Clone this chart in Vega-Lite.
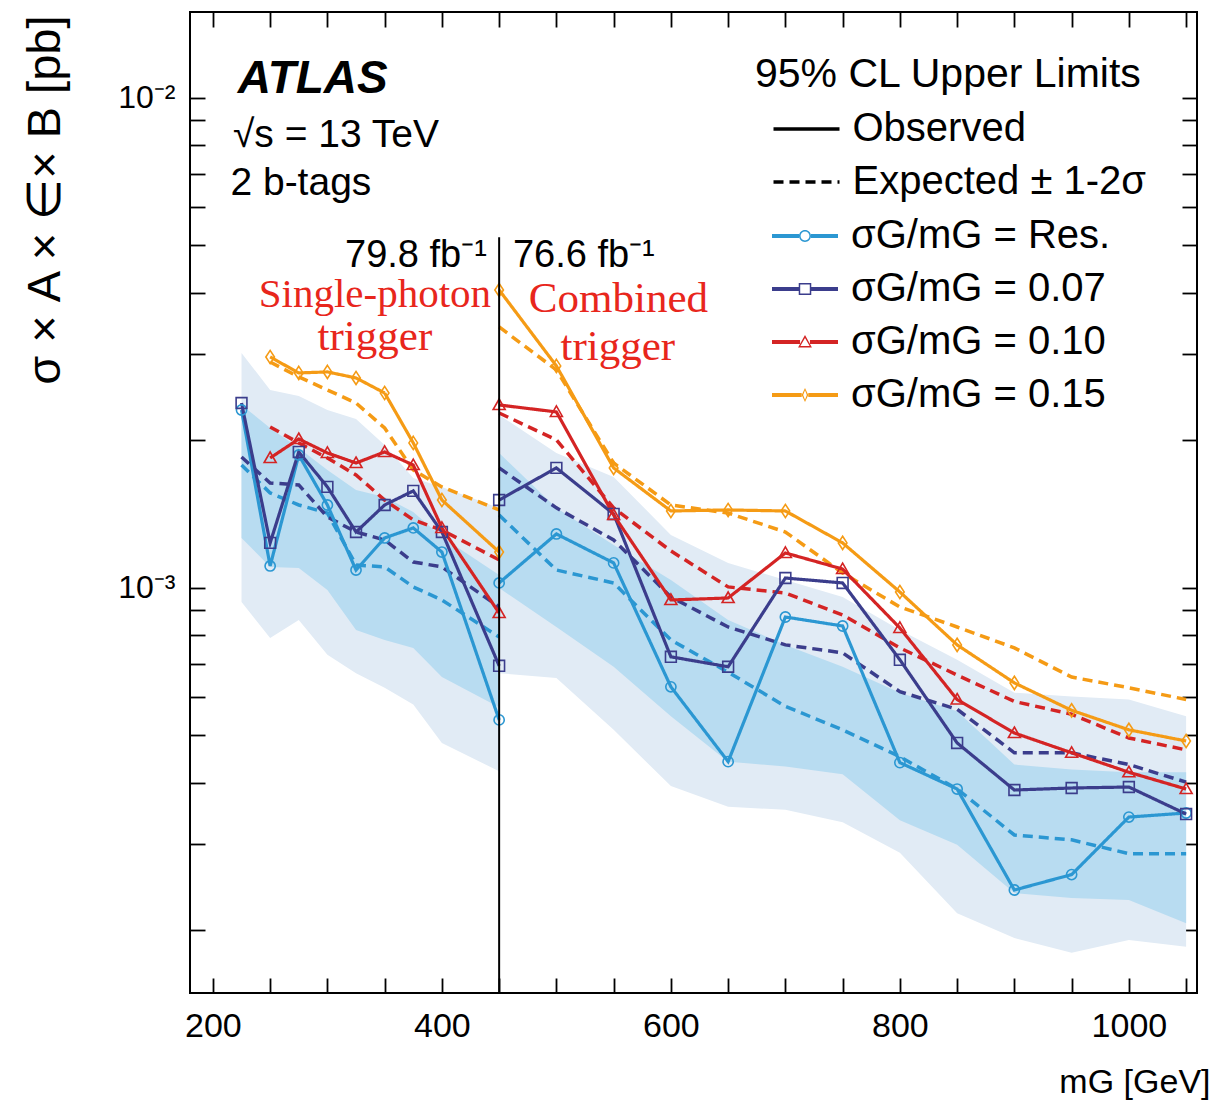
{
  "$schema": "https://vega.github.io/schema/vega-lite/v6.json",
  "width": 1007,
  "height": 981,
  "autosize": {"type": "none"},
  "padding": {"left": 190, "top": 12, "right": 21, "bottom": 110},
  "background": "white",
  "config": {
    "view": {"stroke": "black", "strokeWidth": 2},
    "font": "Liberation Sans",
    "axis": {"grid": false, "domain": false, "tickColor": "black", "tickWidth": 1.8, "labelColor": "black", "titleColor": "black", "labelFont": "Liberation Sans", "titleFont": "Liberation Sans", "titleFontWeight": "normal"}
  },
  "data": {"values": [{}]},
  "datasets": {
    "obs": [
      {"m": 225, "v": 0.002308, "s": "Res.", "seg": "SP"},
      {"m": 250, "v": 0.001109, "s": "Res.", "seg": "SP"},
      {"m": 275, "v": 0.001868, "s": "Res.", "seg": "SP"},
      {"m": 300, "v": 0.001477, "s": "Res.", "seg": "SP"},
      {"m": 325, "v": 0.001088, "s": "Res.", "seg": "SP"},
      {"m": 350, "v": 0.001265, "s": "Res.", "seg": "SP"},
      {"m": 375, "v": 0.001326, "s": "Res.", "seg": "SP"},
      {"m": 400, "v": 0.001184, "s": "Res.", "seg": "SP"},
      {"m": 450, "v": 0.000538, "s": "Res.", "seg": "SP"},
      {"m": 450, "v": 0.001024, "s": "Res.", "seg": "C"},
      {"m": 500, "v": 0.001289, "s": "Res.", "seg": "C"},
      {"m": 550, "v": 0.001125, "s": "Res.", "seg": "C"},
      {"m": 600, "v": 0.0006285, "s": "Res.", "seg": "C"},
      {"m": 650, "v": 0.0004422, "s": "Res.", "seg": "C"},
      {"m": 700, "v": 0.0008725, "s": "Res.", "seg": "C"},
      {"m": 750, "v": 0.0008365, "s": "Res.", "seg": "C"},
      {"m": 800, "v": 0.0004402, "s": "Res.", "seg": "C"},
      {"m": 850, "v": 0.0003888, "s": "Res.", "seg": "C"},
      {"m": 900, "v": 0.0002419, "s": "Res.", "seg": "C"},
      {"m": 950, "v": 0.0002601, "s": "Res.", "seg": "C"},
      {"m": 1000, "v": 0.0003408, "s": "Res.", "seg": "C"},
      {"m": 1050, "v": 0.0003474, "s": "Res.", "seg": "C"},
      {"m": 225, "v": 0.002385, "s": "0.07", "seg": "SP"},
      {"m": 250, "v": 0.001236, "s": "0.07", "seg": "SP"},
      {"m": 275, "v": 0.001895, "s": "0.07", "seg": "SP"},
      {"m": 300, "v": 0.001608, "s": "0.07", "seg": "SP"},
      {"m": 325, "v": 0.001301, "s": "0.07", "seg": "SP"},
      {"m": 350, "v": 0.001477, "s": "0.07", "seg": "SP"},
      {"m": 375, "v": 0.001578, "s": "0.07", "seg": "SP"},
      {"m": 400, "v": 0.001301, "s": "0.07", "seg": "SP"},
      {"m": 450, "v": 0.0006938, "s": "0.07", "seg": "SP"},
      {"m": 450, "v": 0.001512, "s": "0.07", "seg": "C"},
      {"m": 500, "v": 0.001758, "s": "0.07", "seg": "C"},
      {"m": 550, "v": 0.001416, "s": "0.07", "seg": "C"},
      {"m": 600, "v": 0.0007237, "s": "0.07", "seg": "C"},
      {"m": 650, "v": 0.0006906, "s": "0.07", "seg": "C"},
      {"m": 700, "v": 0.001048, "s": "0.07", "seg": "C"},
      {"m": 750, "v": 0.001024, "s": "0.07", "seg": "C"},
      {"m": 800, "v": 0.0007136, "s": "0.07", "seg": "C"},
      {"m": 850, "v": 0.0004828, "s": "0.07", "seg": "C"},
      {"m": 900, "v": 0.000387, "s": "0.07", "seg": "C"},
      {"m": 950, "v": 0.0003907, "s": "0.07", "seg": "C"},
      {"m": 1000, "v": 0.0003925, "s": "0.07", "seg": "C"},
      {"m": 1050, "v": 0.0003457, "s": "0.07", "seg": "C"},
      {"m": 250, "v": 0.001842, "s": "0.10", "seg": "SP"},
      {"m": 275, "v": 0.002014, "s": "0.10", "seg": "SP"},
      {"m": 300, "v": 0.001886, "s": "0.10", "seg": "SP"},
      {"m": 325, "v": 0.001799, "s": "0.10", "seg": "SP"},
      {"m": 350, "v": 0.001895, "s": "0.10", "seg": "SP"},
      {"m": 375, "v": 0.001782, "s": "0.10", "seg": "SP"},
      {"m": 400, "v": 0.001326, "s": "0.10", "seg": "SP"},
      {"m": 450, "v": 0.0008891, "s": "0.10", "seg": "SP"},
      {"m": 450, "v": 0.002363, "s": "0.10", "seg": "C"},
      {"m": 500, "v": 0.002287, "s": "0.10", "seg": "C"},
      {"m": 550, "v": 0.001409, "s": "0.10", "seg": "C"},
      {"m": 600, "v": 0.0009452, "s": "0.10", "seg": "C"},
      {"m": 650, "v": 0.0009541, "s": "0.10", "seg": "C"},
      {"m": 700, "v": 0.001179, "s": "0.10", "seg": "C"},
      {"m": 750, "v": 0.001093, "s": "0.10", "seg": "C"},
      {"m": 800, "v": 0.0008287, "s": "0.10", "seg": "C"},
      {"m": 850, "v": 0.0005921, "s": "0.10", "seg": "C"},
      {"m": 900, "v": 0.0005059, "s": "0.10", "seg": "C"},
      {"m": 950, "v": 0.000461, "s": "0.10", "seg": "C"},
      {"m": 1000, "v": 0.0004207, "s": "0.10", "seg": "C"},
      {"m": 1050, "v": 0.0003888, "s": "0.10", "seg": "C"},
      {"m": 250, "v": 0.002961, "s": "0.15", "seg": "SP"},
      {"m": 275, "v": 0.002747, "s": "0.15", "seg": "SP"},
      {"m": 300, "v": 0.00276, "s": "0.15", "seg": "SP"},
      {"m": 325, "v": 0.002683, "s": "0.15", "seg": "SP"},
      {"m": 350, "v": 0.0025, "s": "0.15", "seg": "SP"},
      {"m": 375, "v": 0.001977, "s": "0.15", "seg": "SP"},
      {"m": 400, "v": 0.001512, "s": "0.15", "seg": "SP"},
      {"m": 450, "v": 0.001184, "s": "0.15", "seg": "SP"},
      {"m": 450, "v": 0.004057, "s": "0.15", "seg": "C"},
      {"m": 500, "v": 0.002839, "s": "0.15", "seg": "C"},
      {"m": 550, "v": 0.001758, "s": "0.15", "seg": "C"},
      {"m": 600, "v": 0.001436, "s": "0.15", "seg": "C"},
      {"m": 650, "v": 0.001443, "s": "0.15", "seg": "C"},
      {"m": 700, "v": 0.001436, "s": "0.15", "seg": "C"},
      {"m": 750, "v": 0.001236, "s": "0.15", "seg": "C"},
      {"m": 800, "v": 0.0009814, "s": "0.15", "seg": "C"},
      {"m": 850, "v": 0.0007654, "s": "0.15", "seg": "C"},
      {"m": 900, "v": 0.0006402, "s": "0.15", "seg": "C"},
      {"m": 950, "v": 0.0005628, "s": "0.15", "seg": "C"},
      {"m": 1000, "v": 0.0005135, "s": "0.15", "seg": "C"},
      {"m": 1050, "v": 0.0004873, "s": "0.15", "seg": "C"}
    ],
    "exp": [
      {"m": 225, "v": 0.001782, "s": "Res.", "seg": "SP"},
      {"m": 250, "v": 0.001563, "s": "Res.", "seg": "SP"},
      {"m": 275, "v": 0.001477, "s": "Res.", "seg": "SP"},
      {"m": 300, "v": 0.001422, "s": "Res.", "seg": "SP"},
      {"m": 325, "v": 0.001114, "s": "Res.", "seg": "SP"},
      {"m": 350, "v": 0.001104, "s": "Res.", "seg": "SP"},
      {"m": 375, "v": 0.001005, "s": "Res.", "seg": "SP"},
      {"m": 400, "v": 0.0009452, "s": "Res.", "seg": "SP"},
      {"m": 450, "v": 0.0007943, "s": "Res.", "seg": "SP"},
      {"m": 450, "v": 0.001409, "s": "Res.", "seg": "C"},
      {"m": 500, "v": 0.001088, "s": "Res.", "seg": "C"},
      {"m": 550, "v": 0.001024, "s": "Res.", "seg": "C"},
      {"m": 600, "v": 0.0007834, "s": "Res.", "seg": "C"},
      {"m": 650, "v": 0.0006733, "s": "Res.", "seg": "C"},
      {"m": 700, "v": 0.0005734, "s": "Res.", "seg": "C"},
      {"m": 750, "v": 0.0005135, "s": "Res.", "seg": "C"},
      {"m": 800, "v": 0.0004526, "s": "Res.", "seg": "C"},
      {"m": 850, "v": 0.0003888, "s": "Res.", "seg": "C"},
      {"m": 900, "v": 0.0003133, "s": "Res.", "seg": "C"},
      {"m": 950, "v": 0.0003062, "s": "Res.", "seg": "C"},
      {"m": 1000, "v": 0.000287, "s": "Res.", "seg": "C"},
      {"m": 1050, "v": 0.000287, "s": "Res.", "seg": "C"},
      {"m": 225, "v": 0.001851, "s": "0.07", "seg": "SP"},
      {"m": 250, "v": 0.001638, "s": "0.07", "seg": "SP"},
      {"m": 275, "v": 0.001623, "s": "0.07", "seg": "SP"},
      {"m": 300, "v": 0.001396, "s": "0.07", "seg": "SP"},
      {"m": 325, "v": 0.001301, "s": "0.07", "seg": "SP"},
      {"m": 350, "v": 0.001253, "s": "0.07", "seg": "SP"},
      {"m": 375, "v": 0.00113, "s": "0.07", "seg": "SP"},
      {"m": 400, "v": 0.001104, "s": "0.07", "seg": "SP"},
      {"m": 450, "v": 0.0009146, "s": "0.07", "seg": "SP"},
      {"m": 450, "v": 0.001758, "s": "0.07", "seg": "C"},
      {"m": 500, "v": 0.001457, "s": "0.07", "seg": "C"},
      {"m": 550, "v": 0.001253, "s": "0.07", "seg": "C"},
      {"m": 600, "v": 0.0009586, "s": "0.07", "seg": "C"},
      {"m": 650, "v": 0.0008326, "s": "0.07", "seg": "C"},
      {"m": 700, "v": 0.0007654, "s": "0.07", "seg": "C"},
      {"m": 750, "v": 0.0007373, "s": "0.07", "seg": "C"},
      {"m": 800, "v": 0.0006143, "s": "0.07", "seg": "C"},
      {"m": 850, "v": 0.0005655, "s": "0.07", "seg": "C"},
      {"m": 900, "v": 0.000461, "s": "0.07", "seg": "C"},
      {"m": 950, "v": 0.000461, "s": "0.07", "seg": "C"},
      {"m": 1000, "v": 0.0004362, "s": "0.07", "seg": "C"},
      {"m": 1050, "v": 0.0004016, "s": "0.07", "seg": "C"},
      {"m": 250, "v": 0.002131, "s": "0.10", "seg": "SP"},
      {"m": 275, "v": 0.001977, "s": "0.10", "seg": "SP"},
      {"m": 300, "v": 0.001842, "s": "0.10", "seg": "SP"},
      {"m": 325, "v": 0.001701, "s": "0.10", "seg": "SP"},
      {"m": 350, "v": 0.001512, "s": "0.10", "seg": "SP"},
      {"m": 375, "v": 0.001377, "s": "0.10", "seg": "SP"},
      {"m": 400, "v": 0.001313, "s": "0.10", "seg": "SP"},
      {"m": 450, "v": 0.001141, "s": "0.10", "seg": "SP"},
      {"m": 450, "v": 0.002276, "s": "0.10", "seg": "C"},
      {"m": 500, "v": 0.002005, "s": "0.10", "seg": "C"},
      {"m": 550, "v": 0.001457, "s": "0.10", "seg": "C"},
      {"m": 600, "v": 0.00119, "s": "0.10", "seg": "C"},
      {"m": 650, "v": 0.001005, "s": "0.10", "seg": "C"},
      {"m": 700, "v": 0.0009768, "s": "0.10", "seg": "C"},
      {"m": 750, "v": 0.0008808, "s": "0.10", "seg": "C"},
      {"m": 800, "v": 0.0007547, "s": "0.10", "seg": "C"},
      {"m": 850, "v": 0.0006643, "s": "0.10", "seg": "C"},
      {"m": 900, "v": 0.0005867, "s": "0.10", "seg": "C"},
      {"m": 950, "v": 0.0005525, "s": "0.10", "seg": "C"},
      {"m": 1000, "v": 0.0004942, "s": "0.10", "seg": "C"},
      {"m": 1050, "v": 0.0004673, "s": "0.10", "seg": "C"},
      {"m": 250, "v": 0.002892, "s": "0.15", "seg": "SP"},
      {"m": 275, "v": 0.002696, "s": "0.15", "seg": "SP"},
      {"m": 300, "v": 0.002536, "s": "0.15", "seg": "SP"},
      {"m": 325, "v": 0.002385, "s": "0.15", "seg": "SP"},
      {"m": 350, "v": 0.002121, "s": "0.15", "seg": "SP"},
      {"m": 375, "v": 0.001741, "s": "0.15", "seg": "SP"},
      {"m": 400, "v": 0.001608, "s": "0.15", "seg": "SP"},
      {"m": 450, "v": 0.001443, "s": "0.15", "seg": "SP"},
      {"m": 450, "v": 0.00341, "s": "0.15", "seg": "C"},
      {"m": 500, "v": 0.002786, "s": "0.15", "seg": "C"},
      {"m": 550, "v": 0.001799, "s": "0.15", "seg": "C"},
      {"m": 600, "v": 0.001477, "s": "0.15", "seg": "C"},
      {"m": 650, "v": 0.001422, "s": "0.15", "seg": "C"},
      {"m": 700, "v": 0.001301, "s": "0.15", "seg": "C"},
      {"m": 750, "v": 0.001073, "s": "0.15", "seg": "C"},
      {"m": 800, "v": 0.0009146, "s": "0.15", "seg": "C"},
      {"m": 850, "v": 0.0008326, "s": "0.15", "seg": "C"},
      {"m": 900, "v": 0.0007547, "s": "0.15", "seg": "C"},
      {"m": 950, "v": 0.000658, "s": "0.15", "seg": "C"},
      {"m": 1000, "v": 0.0006257, "s": "0.15", "seg": "C"},
      {"m": 1050, "v": 0.0005921, "s": "0.15", "seg": "C"}
    ],
    "band": [
      {"m": 225, "seg": "SP", "hi2": 0.003017, "hi1": 0.002363, "lo1": 0.001265, "lo2": 0.0009363},
      {"m": 250, "seg": "SP", "hi2": 0.002536, "hi1": 0.002121, "lo1": 0.001104, "lo2": 0.0007907},
      {"m": 275, "seg": "SP", "hi2": 0.002465, "hi1": 0.001931, "lo1": 0.001099, "lo2": 0.0008603},
      {"m": 300, "seg": "SP", "hi2": 0.002308, "hi1": 0.001741, "lo1": 0.0009907, "lo2": 0.0007305},
      {"m": 325, "seg": "SP", "hi2": 0.002213, "hi1": 0.001585, "lo1": 0.000821, "lo2": 0.0006702},
      {"m": 350, "seg": "SP", "hi2": 0.001958, "hi1": 0.001534, "lo1": 0.0007834, "lo2": 0.0006257},
      {"m": 375, "seg": "SP", "hi2": 0.001677, "hi1": 0.001429, "lo1": 0.0007547, "lo2": 0.0005787},
      {"m": 400, "seg": "SP", "hi2": 0.001608, "hi1": 0.001271, "lo1": 0.000658, "lo2": 0.0004828},
      {"m": 450, "seg": "SP", "hi2": 0.001457, "hi1": 0.001063, "lo1": 0.0005707, "lo2": 0.0004226},
      {"m": 450, "seg": "C", "hi2": 0.002255, "hi1": 0.001886, "lo1": 0.001, "lo2": 0.0006702},
      {"m": 500, "seg": "C", "hi2": 0.001886, "hi1": 0.001457, "lo1": 0.0008326, "lo2": 0.0006549},
      {"m": 550, "seg": "C", "hi2": 0.001685, "hi1": 0.001224, "lo1": 0.0006906, "lo2": 0.0005135},
      {"m": 600, "seg": "C", "hi2": 0.001283, "hi1": 0.001038, "lo1": 0.0005474, "lo2": 0.0003943},
      {"m": 650, "seg": "C", "hi2": 0.001125, "hi1": 0.0008603, "lo1": 0.0004422, "lo2": 0.0003577},
      {"m": 700, "seg": "C", "hi2": 0.001038, "hi1": 0.0007654, "lo1": 0.0004323, "lo2": 0.0003526},
      {"m": 750, "seg": "C", "hi2": 0.0009586, "hi1": 0.0006906, "lo1": 0.0004168, "lo2": 0.0003326},
      {"m": 800, "seg": "C", "hi2": 0.000821, "hi1": 0.0006114, "lo1": 0.0003358, "lo2": 0.0002883},
      {"m": 850, "seg": "C", "hi2": 0.0007136, "hi1": 0.0005602, "lo1": 0.0002991, "lo2": 0.0002168},
      {"m": 900, "seg": "C", "hi2": 0.0006114, "hi1": 0.0004362, "lo1": 0.0002385, "lo2": 0.0001931},
      {"m": 950, "seg": "C", "hi2": 0.0006003, "hi1": 0.0004264, "lo1": 0.000233, "lo2": 0.0001802},
      {"m": 1000, "seg": "C", "hi2": 0.0005921, "hi1": 0.0004207, "lo1": 0.0002308, "lo2": 0.0001913},
      {"m": 1050, "seg": "C", "hi2": 0.0005474, "hi1": 0.0004207, "lo1": 0.000207, "lo2": 0.0001853}
    ]
  },
  "layer": [
    {
      "data": {"name": "band"},
      "mark": {"type": "area", "color": "#e1ebf5", "interpolate": "linear"},
      "encoding": {
        "x": {"field": "m", "type": "quantitative",
          "scale": {"domain": [180, 1059.5], "nice": false, "zero": false},
          "axis": {"orient": "bottom", "values": [200, 250, 300, 350, 400, 450, 500, 550, 600, 650, 700, 750, 800, 850, 900, 950, 1000, 1050],
            "format": "d", "labelExpr": "datum.value % 200 === 0 ? datum.label : ''",
            "tickSize": -15, "labelPadding": 48, "labelBaseline": "middle", "labelFontSize": 34, "labelFlush": false, "labelOverlap": false,
            "title": "mG [GeV]", "titleFontSize": 34, "titleX": 1020, "titleY": 89, "titleAlign": "right", "titleBaseline": "middle",
            "encode": {"ticks": {"update": {"y2": {"signal": "datum.value % 200 === 0 ? -29 : -15"}}}}}},
        "y": {"field": "hi2", "type": "quantitative",
          "scale": {"type": "log", "domain": [0.0001491, 0.014977], "nice": false},
          "axis": {"orient": "left", "values": [0.0002, 0.0003, 0.0004, 0.0005, 0.0006, 0.0007, 0.0008, 0.0009, 0.001, 0.002, 0.003, 0.004, 0.005, 0.006, 0.007, 0.008, 0.009, 0.01],
            "labelExpr": "datum.value === 0.01 ? '10⁻²' : (datum.value === 0.001 ? '10⁻³' : '')",
            "tickSize": -15, "labelPadding": 30, "labelFontSize": 32, "labelBaseline": "middle", "labelAlign": "right", "labelOverlap": false, "labelFlush": false,
            "title": "σ × A × ∈× B [pb]", "titleFontSize": 47, "titleX": -145, "titleY": 3, "titleAlign": "right", "titleBaseline": "middle",
            "encode": {"ticks": {"update": {"x2": {"signal": "abs(log(datum.value)/LN10 - round(log(datum.value)/LN10)) < 0.001 ? 29 : 15"}}}}}},
        "y2": {"field": "lo2"},
        "detail": {"field": "seg"}
      }
    },
    {
      "data": {"name": "band"},
      "mark": {"type": "area", "color": "#b8dcf1", "interpolate": "linear"},
      "encoding": {
        "x": {"field": "m", "type": "quantitative",
          "axis": {"orient": "top", "values": [200, 250, 300, 350, 400, 450, 500, 550, 600, 650, 700, 750, 800, 850, 900, 950, 1000, 1050],
            "labels": false, "title": null, "tickSize": -15,
            "encode": {"ticks": {"update": {"y2": {"signal": "datum.value % 200 === 0 ? 29 : 15"}}}}}},
        "y": {"field": "hi1", "type": "quantitative",
          "axis": {"orient": "right", "values": [0.0002, 0.0003, 0.0004, 0.0005, 0.0006, 0.0007, 0.0008, 0.0009, 0.001, 0.002, 0.003, 0.004, 0.005, 0.006, 0.007, 0.008, 0.009, 0.01],
            "labels": false, "title": null, "tickSize": -15,
            "encode": {"ticks": {"update": {"x2": {"signal": "abs(log(datum.value)/LN10 - round(log(datum.value)/LN10)) < 0.001 ? -29 : -15"}}}}}},
        "y2": {"field": "lo1"},
        "detail": {"field": "seg"}
      }
    },
    {
      "data": {"name": "exp"},
      "mark": {"type": "line", "strokeWidth": 3.5},
      "encoding": {
        "x": {"field": "m", "type": "quantitative", "axis": null},
        "y": {"field": "v", "type": "quantitative", "axis": null},
        "stroke": {"field": "s", "type": "nominal", "scale": {"range": ["#3b3d8c", "#d42424", "#f59b15", "#2b97d2"]}, "legend": null},
        "detail": {"field": "seg"},
        "strokeDash": {"datum": "Expected ± 1-2σ", "type": "nominal",
          "scale": {"domain": ["Observed", "Expected ± 1-2σ"], "range": [[1, 0], [10, 6]]},
          "legend": {"orient": "none", "legendX": 565, "legendY": 43, "padding": 0, "title": "95% CL Upper Limits", "titleFontSize": 41, "titleFont": "Liberation Sans", "titleFontWeight": "normal", "titleColor": "black", "titlePadding": 13, "titleLimit": 1000,
            "symbolType": "M-2,0H2", "symbolSize": 1089, "symbolStrokeWidth": 3.5, "symbolStrokeColor": "black", "symbolOffset": 31.5, "labelOffset": 26,
            "labelFontSize": 40, "labelFont": "Liberation Sans", "labelColor": "black", "labelLimit": 1000, "rowPadding": 13}}
      }
    },
    {
      "data": {"name": "obs"},
      "mark": {"type": "line", "strokeWidth": 3.2},
      "encoding": {
        "x": {"field": "m", "type": "quantitative", "axis": null},
        "y": {"field": "v", "type": "quantitative", "axis": null},
        "stroke": {"field": "s", "type": "nominal", "legend": null},
        "detail": {"field": "seg"},
        "strokeDash": {"datum": "Observed", "type": "nominal",
          "legend": {"orient": "none", "legendX": 565, "legendY": 43, "padding": 0, "title": "95% CL Upper Limits", "titleFontSize": 41, "titleFont": "Liberation Sans", "titleFontWeight": "normal", "titleColor": "black", "titlePadding": 13, "titleLimit": 1000,
            "symbolType": "M-2,0H2", "symbolSize": 1089, "symbolStrokeWidth": 3.5, "symbolStrokeColor": "black", "symbolOffset": 31.5, "labelOffset": 26,
            "labelFontSize": 40, "labelFont": "Liberation Sans", "labelColor": "black", "labelLimit": 1000, "rowPadding": 13}}
      }
    },
    {
      "data": {"name": "obs"},
      "transform": [{"filter": "datum.s === 'Res.'"}],
      "mark": {"type": "point", "shape": "M-0.85,0A0.85,0.85 0 1,0 0.85,0A0.85,0.85 0 1,0 -0.85,0Z", "size": 144, "strokeWidth": 1.6, "filled": false, "opacity": 1},
      "encoding": {
        "x": {"field": "m", "type": "quantitative", "axis": null},
        "y": {"field": "v", "type": "quantitative", "axis": null},
        "stroke": {"field": "s", "type": "nominal", "legend": null}
      }
    },
    {
      "data": {"name": "obs"},
      "transform": [{"filter": "datum.s === '0.07'"}],
      "mark": {"type": "point", "shape": "M-0.9,-0.9H0.9V0.9H-0.9Z", "size": 144, "strokeWidth": 1.6, "filled": false, "opacity": 1},
      "encoding": {
        "x": {"field": "m", "type": "quantitative", "axis": null},
        "y": {"field": "v", "type": "quantitative", "axis": null},
        "stroke": {"field": "s", "type": "nominal", "legend": null}
      }
    },
    {
      "data": {"name": "obs"},
      "transform": [{"filter": "datum.s === '0.10'"}],
      "mark": {"type": "point", "shape": "M0,-1L1,0.75H-1Z", "size": 144, "strokeWidth": 1.6, "filled": false, "opacity": 1},
      "encoding": {
        "x": {"field": "m", "type": "quantitative", "axis": null},
        "y": {"field": "v", "type": "quantitative", "axis": null},
        "stroke": {"field": "s", "type": "nominal", "legend": null}
      }
    },
    {
      "data": {"name": "obs"},
      "transform": [{"filter": "datum.s === '0.15'"}],
      "mark": {"type": "point", "shape": "M0,-1.1L0.72,0L0,1.1L-0.72,0Z", "size": 144, "strokeWidth": 1.6, "filled": false, "opacity": 1},
      "encoding": {
        "x": {"field": "m", "type": "quantitative", "axis": null},
        "y": {"field": "v", "type": "quantitative", "axis": null},
        "stroke": {"field": "s", "type": "nominal", "legend": null}
      }
    },
    {
      "data": {"name": "obs"},
      "transform": [{"filter": "false"}],
      "mark": {"type": "point", "filled": true},
      "encoding": {
        "x": {"field": "m", "type": "quantitative", "axis": null},
        "y": {"field": "v", "type": "quantitative", "axis": null},
        "color": {"field": "s", "type": "nominal",
          "scale": {"domain": ["Res.", "0.07", "0.10", "0.15"], "range": ["#2b97d2", "#3b3d8c", "#d42424", "#f59b15"]},
          "legend": {"orient": "none", "legendX": 565, "legendY": 204, "padding": 0, "title": null, "symbolSize": 1089, "symbolStrokeWidth": 0, "symbolOpacity": 1, "symbolOffset": 30, "labelOffset": 26,
            "labelFontSize": 40, "labelFont": "Liberation Sans", "labelColor": "black", "labelLimit": 1000, "rowPadding": 13, "labelExpr": "'σG/mG = ' + datum.label"}},
        "shape": {"field": "s", "type": "nominal",
          "scale": {"domain": ["Res.", "0.07", "0.10", "0.15"], "range": [
            "M-2,-0.12H-0.36V0.12H-2Z M0.36,-0.12H2V0.12H0.36Z M-0.36,0A0.36,0.36 0 1,1 0.36,0A0.36,0.36 0 1,1 -0.36,0Z M-0.27,0A0.27,0.27 0 1,0 0.27,0A0.27,0.27 0 1,0 -0.27,0Z",
            "M-2,-0.12H-0.38V0.12H-2Z M0.38,-0.12H2V0.12H0.38Z M-0.38,-0.36H0.38V0.36H-0.38Z M-0.29,-0.27V0.27H0.29V-0.27Z",
            "M-2,-0.12H-0.3V0.12H-2Z M0.3,-0.12H2V0.12H0.3Z M0,-0.42L0.42,0.33H-0.42Z M0,-0.24L-0.28,0.24H0.28Z",
            "M-2,-0.12H-0.2V0.12H-2Z M0.2,-0.12H2V0.12H0.2Z M0,-0.42L0.2,0L0,0.42L-0.2,0Z M0,-0.29L-0.11,0L0,0.29L0.11,0Z"]},
          "legend": {"orient": "none", "legendX": 565, "legendY": 204, "padding": 0, "title": null, "symbolSize": 1089, "symbolStrokeWidth": 0, "symbolOpacity": 1, "symbolOffset": 30, "labelOffset": 26,
            "labelFontSize": 40, "labelFont": "Liberation Sans", "labelColor": "black", "labelLimit": 1000, "rowPadding": 13, "labelExpr": "'σG/mG = ' + datum.label"}}
      }
    },
    {
      "mark": {"type": "rule", "color": "black", "strokeWidth": 2},
      "encoding": {
        "x": {"datum": 450, "type": "quantitative", "axis": null},
        "y": {"datum": 0.0052, "type": "quantitative", "axis": null},
        "y2": {"datum": 0.0001491}
      }
    },
    {
      "mark": {"type": "text", "text": "ATLAS", "font": "Liberation Sans", "fontSize": 46, "fontWeight": "bold", "fontStyle": "italic", "align": "left", "baseline": "alphabetic", "color": "black"},
      "encoding": {"x": {"datum": 221.8, "type": "quantitative", "axis": null}, "y": {"datum": 0.010238, "type": "quantitative", "axis": null}}
    },
    {
      "mark": {"type": "text", "text": "√s = 13 TeV", "font": "Liberation Sans", "fontSize": 39, "align": "left", "baseline": "alphabetic", "color": "black"},
      "encoding": {"x": {"datum": 217.5, "type": "quantitative", "axis": null}, "y": {"datum": 0.00794, "type": "quantitative", "axis": null}}
    },
    {
      "mark": {"type": "text", "text": "2 b-tags", "font": "Liberation Sans", "fontSize": 39, "align": "left", "baseline": "alphabetic", "color": "black"},
      "encoding": {"x": {"datum": 215.3, "type": "quantitative", "axis": null}, "y": {"datum": 0.00634, "type": "quantitative", "axis": null}}
    },
    {
      "mark": {"type": "text", "text": "79.8 fb⁻¹", "font": "Liberation Sans", "fontSize": 38, "align": "right", "baseline": "alphabetic", "color": "black"},
      "encoding": {"x": {"datum": 439.3, "type": "quantitative", "axis": null}, "y": {"datum": 0.00452, "type": "quantitative", "axis": null}}
    },
    {
      "mark": {"type": "text", "text": "76.6 fb⁻¹", "font": "Liberation Sans", "fontSize": 38, "align": "left", "baseline": "alphabetic", "color": "black"},
      "encoding": {"x": {"datum": 462, "type": "quantitative", "axis": null}, "y": {"datum": 0.00452, "type": "quantitative", "axis": null}}
    },
    {
      "mark": {"type": "text", "text": "Single-photon", "font": "Liberation Serif", "fontSize": 41, "align": "center", "baseline": "alphabetic", "color": "#e8261c"},
      "encoding": {"x": {"datum": 341.5, "type": "quantitative", "axis": null}, "y": {"datum": 0.00374, "type": "quantitative", "axis": null}}
    },
    {
      "mark": {"type": "text", "text": "trigger", "font": "Liberation Serif", "fontSize": 43, "align": "center", "baseline": "alphabetic", "color": "#e8261c"},
      "encoding": {"x": {"datum": 341.5, "type": "quantitative", "axis": null}, "y": {"datum": 0.00306, "type": "quantitative", "axis": null}}
    },
    {
      "mark": {"type": "text", "text": "Combined", "font": "Liberation Serif", "fontSize": 43, "align": "center", "baseline": "alphabetic", "color": "#e8261c"},
      "encoding": {"x": {"datum": 554.2, "type": "quantitative", "axis": null}, "y": {"datum": 0.00366, "type": "quantitative", "axis": null}}
    },
    {
      "mark": {"type": "text", "text": "trigger", "font": "Liberation Serif", "fontSize": 43, "align": "center", "baseline": "alphabetic", "color": "#e8261c"},
      "encoding": {"x": {"datum": 553.7, "type": "quantitative", "axis": null}, "y": {"datum": 0.00292, "type": "quantitative", "axis": null}}
    }
  ],
  "resolve": {"axis": {"x": "independent", "y": "independent"}}
}
